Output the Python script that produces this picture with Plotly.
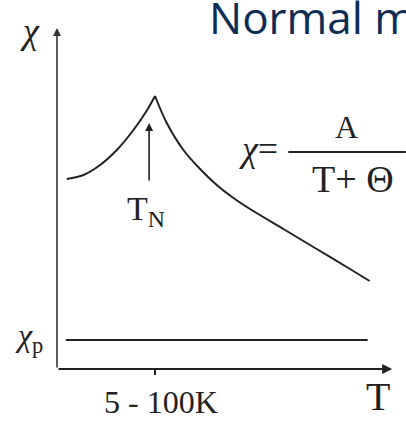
import plotly.graph_objects as go

# Susceptibility of an antiferromagnet vs temperature (arbitrary units, T_N = 10)
t_below = [1.0, 2.7, 4.4, 6.1, 7.8, 9.2, 10.0]
chi_below = [19.0, 19.4, 20.4, 21.9, 23.9, 25.9, 27.3]
t_above = [10.0, 11.2, 12.9, 14.6, 16.3, 18.0, 19.7, 23.1, 26.5, 29.9, 31.9]
chi_above = [27.3, 24.6, 21.9, 20.0, 18.4, 17.1, 16.0, 14.0, 12.0, 10.0, 8.8]

# Pauli (temperature independent) susceptibility
t_pauli = [0.9, 31.7]
chi_pauli = [2.9, 2.9]

T_N = 10.0
x_tick_label = "5 - 100K"

INK = "#222222"
SERIF = "Liberation Serif"

fig = go.Figure()
for xs, ys in [(t_below, chi_below), (t_above, chi_above)]:
    fig.add_trace(go.Scatter(x=xs, y=ys, mode="lines",
                             line=dict(color=INK, width=2, shape="spline", smoothing=0.9),
                             hoverinfo="skip", showlegend=False))
fig.add_trace(go.Scatter(x=t_pauli, y=chi_pauli, mode="lines",
                         line=dict(color=INK, width=2.2),
                         hoverinfo="skip", showlegend=False))

annotations = []
# hand-drawn style axes with arrow heads
annotations.append(dict(x=0, y=34.1, ax=0, ay=0, xref="x", yref="y", axref="x", ayref="y",
                        showarrow=True, arrowhead=2, arrowsize=1.0, arrowwidth=1.6,
                        arrowcolor="#333333", text=""))
annotations.append(dict(x=34.2, y=0, ax=0, ay=0, xref="x", yref="y", axref="x", ayref="y",
                        showarrow=True, arrowhead=2, arrowsize=1.0, arrowwidth=2.0,
                        arrowcolor=INK, text=""))
# arrow pointing at the Neel temperature
annotations.append(dict(x=9.4, y=24.6, ax=9.4, ay=18.7, xref="x", yref="y", axref="x", ayref="y",
                        showarrow=True, arrowhead=2, arrowsize=1.0, arrowwidth=1.6,
                        arrowcolor=INK, text=""))

def label(x, y, text, size, **kw):
    d = dict(x=x, y=y, xref="x", yref="y", text=text, showarrow=False,
             font=dict(family=SERIF, size=size, color=INK), xanchor="center", yanchor="middle")
    d.update(kw)
    annotations.append(d)

label(-2.8, 33.8, "<i>χ</i>", 36)
label(-2.9, 3.2, "<i>χ</i><sub>p</sub>", 32)
label(10.6, -3.3, x_tick_label, 32)
label(32.8, -2.7, "T", 40)
label(9.1, 15.8, "T<sub>N</sub>", 34)
label(20.6, 22.0, "<i>χ</i>=", 36)
label(29.5, 24.2, "A", 32)
label(30.2, 19.0, "T+ Θ", 38)

annotations.append(dict(x=207 / 406, y=1 - 17 / 421, xref="paper", yref="paper",
                        text="Normal m", showarrow=False, xanchor="left", yanchor="middle",
                        font=dict(family="Open Sans", size=44, color="#0e2d55")))

shapes = [
    # tick mark at T_N on the temperature axis
    dict(type="line", xref="x", yref="y", x0=T_N, x1=T_N, y0=0, y1=-0.6,
         line=dict(color=INK, width=2)),
    # fraction bar of the Curie-Weiss expression
    dict(type="line", xref="x", yref="y", x0=23.6, x1=35.6, y0=21.7, y1=21.7,
         line=dict(color=INK, width=2.2)),
]

fig.update_layout(
    width=406, height=421,
    margin=dict(l=0, r=0, t=0, b=0),
    paper_bgcolor="white", plot_bgcolor="white",
    xaxis=dict(range=[-57 / 9.8, 349 / 9.8], visible=False, fixedrange=True),
    yaxis=dict(range=[-5.2, 36.9], visible=False, fixedrange=True),
    annotations=annotations, shapes=shapes,
)

fig.write_html("out.html")
